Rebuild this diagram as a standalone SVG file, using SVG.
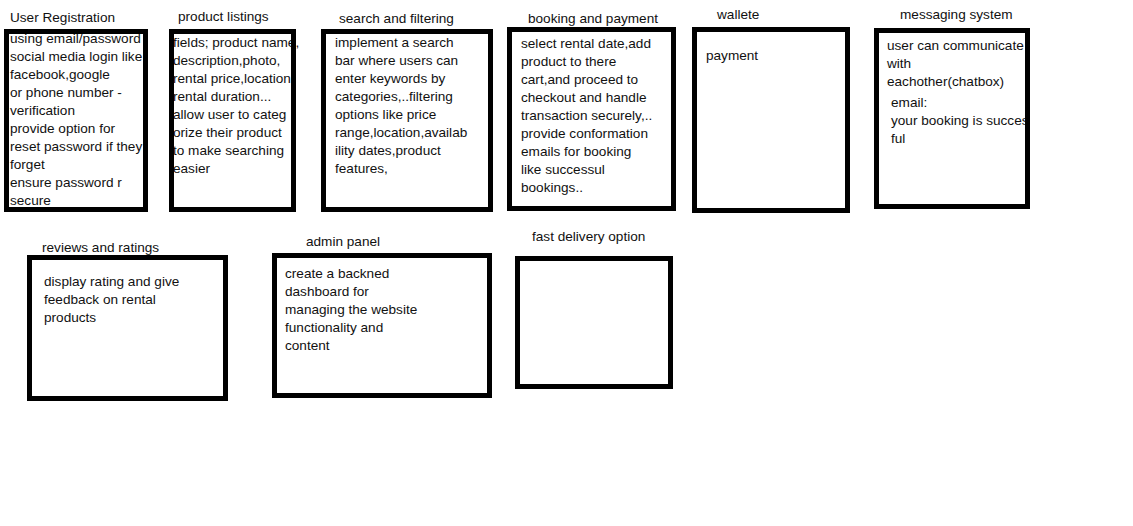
<svg xmlns="http://www.w3.org/2000/svg" width="1133" height="526" viewBox="0 0 1133 526">
<style>
text{font-family:"Liberation Sans",Arial,sans-serif;font-size:13.6px;fill:#111;}
.box{fill:none;stroke:#000;stroke-width:5;}
</style>
<defs>
<clipPath id="c1"><rect x="4" y="29" width="144" height="183"/></clipPath>
<clipPath id="c6"><rect x="874" y="28" width="156" height="181"/></clipPath>
</defs>
<rect width="1133" height="526" fill="#fff"/>
<g id="connectors"></g>
<g id="user-registration">
<text x="10" y="22">User Registration</text>
<g clip-path="url(#c1)">
<text x="10" y="43">using email/password</text>
<text x="10" y="61">social media login like</text>
<text x="10" y="79">facebook,google</text>
<text x="10" y="97">or phone number -</text>
<text x="10" y="115">verification</text>
<text x="10" y="133">provide option for</text>
<text x="10" y="151">reset password if they</text>
<text x="10" y="169">forget</text>
<text x="10" y="187">ensure password r</text>
<text x="10" y="205">secure</text>
</g>
<rect class="box" x="6.5" y="31.5" width="139" height="178"/>
</g>
<g id="product-listings">
<text x="178" y="21">product listings</text>
<text x="173" y="47">fields; product name,</text>
<text x="173" y="65">description,photo,</text>
<text x="173" y="83">rental price,location,</text>
<text x="173" y="101">rental duration...</text>
<text x="173" y="119">allow user to categ</text>
<text x="173" y="137">orize their product</text>
<text x="173" y="155">to make searching</text>
<text x="173" y="173">easier</text>
<rect class="box" x="171.5" y="31.5" width="122" height="178"/>
</g>
<g id="search-filtering">
<text x="339" y="23">search and filtering</text>
<text x="335" y="47">implement a search</text>
<text x="335" y="65">bar where users can</text>
<text x="335" y="83">enter keywords by</text>
<text x="335" y="101">categories,..filtering</text>
<text x="335" y="119">options like price</text>
<text x="335" y="137">range,location,availab</text>
<text x="335" y="155">ility dates,product</text>
<text x="335" y="173">features,</text>
<rect class="box" x="323.5" y="31.5" width="167" height="178"/>
</g>
<g id="booking-payment">
<text x="528" y="23">booking and payment</text>
<text x="521" y="48">select rental date,add</text>
<text x="521" y="66">product to there</text>
<text x="521" y="84">cart,and proceed to</text>
<text x="521" y="102">checkout and handle</text>
<text x="521" y="120">transaction securely,..</text>
<text x="521" y="138">provide conformation</text>
<text x="521" y="156">emails for booking</text>
<text x="521" y="174">like successul</text>
<text x="521" y="192">bookings..</text>
<rect class="box" x="509.5" y="29.5" width="164" height="179"/>
</g>
<g id="wallete">
<text x="717" y="19">wallete</text>
<text x="706" y="60">payment</text>
<rect class="box" x="694.5" y="29.5" width="153" height="181"/>
</g>
<g id="messaging-system">
<text x="900" y="19">messaging system</text>
<g clip-path="url(#c6)">
<text x="887" y="50">user can communicate</text>
<text x="887" y="68">with</text>
<text x="887" y="86">eachother(chatbox)</text>
<text x="891" y="107">email:</text>
<text x="891" y="125">your booking is succes</text>
<text x="891" y="143">ful</text>
</g>
<rect class="box" x="876.5" y="30.5" width="151" height="176"/>
</g>
<g id="reviews-ratings">
<text x="42" y="252">reviews and ratings</text>
<text x="44" y="286">display rating and give</text>
<text x="44" y="304">feedback on rental</text>
<text x="44" y="322">products</text>
<rect class="box" x="29.5" y="257.5" width="196" height="141"/>
</g>
<g id="admin-panel">
<text x="306" y="246">admin panel</text>
<text x="285" y="278">create a backned</text>
<text x="285" y="296">dashboard for</text>
<text x="285" y="314">managing the website</text>
<text x="285" y="332">functionality and</text>
<text x="285" y="350">content</text>
<rect class="box" x="274.5" y="255.5" width="215" height="140"/>
</g>
<g id="fast-delivery">
<text x="532" y="241">fast delivery option</text>
<rect class="box" x="517.5" y="258.5" width="153" height="128"/>
</g>
</svg>
